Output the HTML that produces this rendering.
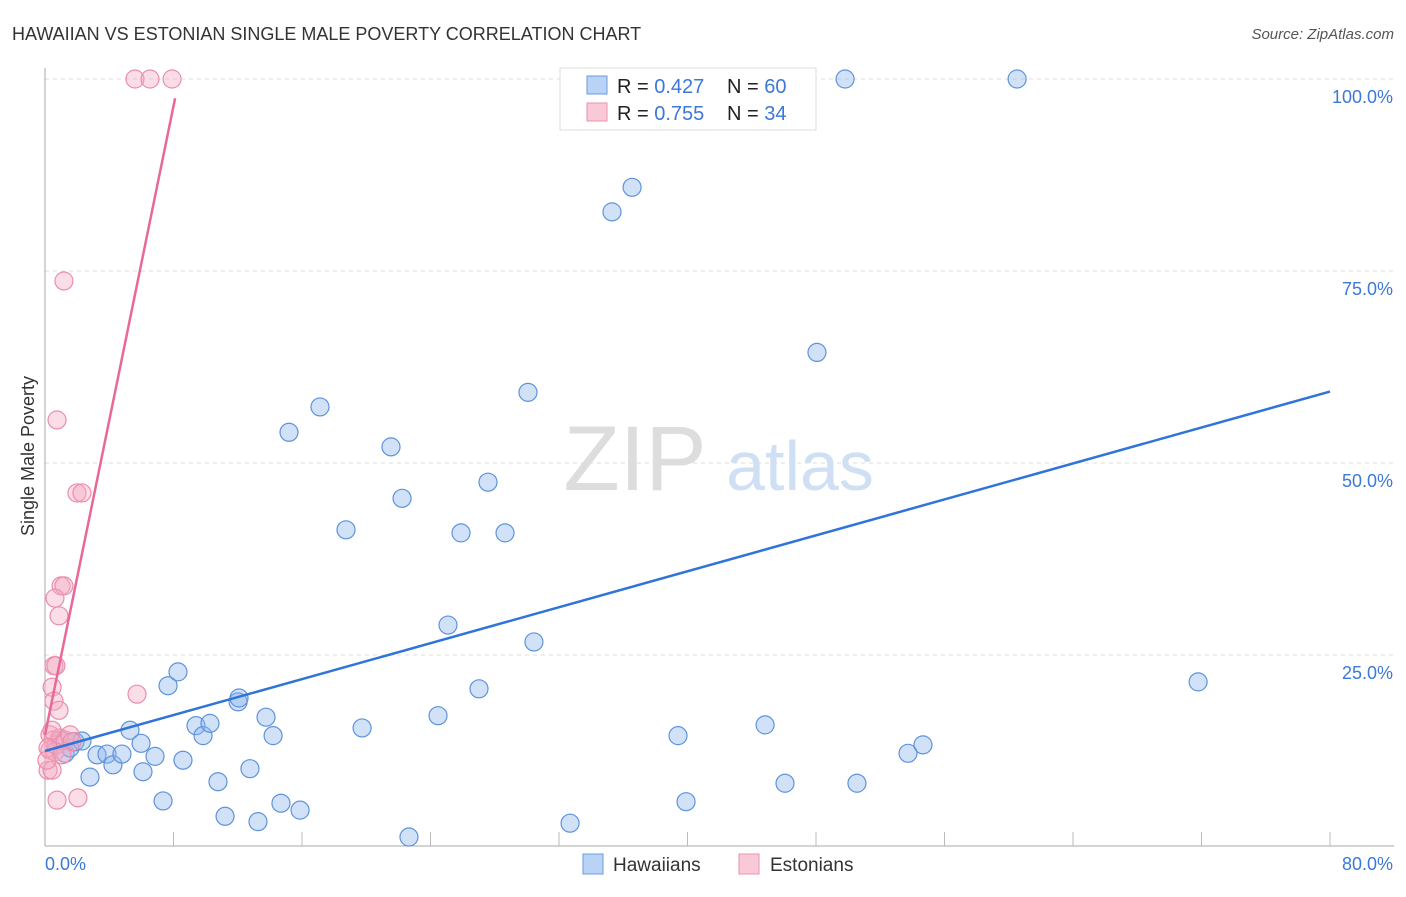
<!DOCTYPE html>
<html><head><meta charset="utf-8"><style>
body{margin:0;background:#fff;font-family:"Liberation Sans",sans-serif}
svg text{font-family:"Liberation Sans",sans-serif}
</style></head><body>
<svg width="1406" height="892" id="chart">
<text x="12" y="40" font-size="18" fill="#333">HAWAIIAN VS ESTONIAN SINGLE MALE POVERTY CORRELATION CHART</text>
<text x="1394" y="39" font-size="15" fill="#555" text-anchor="end" font-style="italic">Source: ZipAtlas.com</text>
<text x="635" y="490" font-size="92" fill="#ddd" font-family="Liberation Serif" text-anchor="middle">ZIP</text>
<text x="800" y="490" font-size="70" fill="#cfe0f5" text-anchor="middle">atlas</text>
<g id="grid"></g><g id="axes"></g><g id="pts"></g><g id="lines"></g>
<text transform="translate(34,456) rotate(-90)" font-size="18" fill="#333" text-anchor="middle">Single Male Poverty</text>
<text x="45" y="870" font-size="18" fill="#3b78d8">0.0%</text>
<text x="1393" y="870" font-size="18" fill="#3b78d8" text-anchor="end">80.0%</text>
<g>
<rect x="560" y="68" width="256" height="62" fill="#fff" stroke="#ddd"/>
<rect x="587" y="76" width="20" height="18" fill="#b8d3f5" stroke="#6a9be0"/>
<rect x="587" y="103" width="20" height="18" fill="#f9c9d8" stroke="#eb92ae"/>
<text x="617" y="93" font-size="20" fill="#222">R = <tspan fill="#3b78d8">0.427</tspan><tspan x="727">N = </tspan><tspan fill="#3b78d8">60</tspan></text>
<text x="617" y="120" font-size="20" fill="#222">R = <tspan fill="#3b78d8">0.755</tspan><tspan x="727">N = </tspan><tspan fill="#3b78d8">34</tspan></text>
</g>
<g>
<rect x="583" y="854" width="20" height="20" fill="#b8d3f5" stroke="#6a9be0"/>
<text x="613" y="871" font-size="19" fill="#333">Hawaiians</text>
<rect x="739" y="854" width="20" height="20" fill="#f9c9d8" stroke="#eb92ae"/>
<text x="770" y="871" font-size="19" fill="#333">Estonians</text>
</g>
</svg>
<script>
const yTicks=[25,50,75,100];
const yTickLabels=["25.0%","50.0%","75.0%","100.0%"];
const xTicks=[8,16,24,32,40,48,56,64,72,80];
const hawX=[0.93,1.25,1.56,1.87,2.30,2.80,3.24,3.86,4.23,4.79,5.29,5.98,6.10,6.85,7.35,7.66,8.28,8.59,9.40,9.84,10.27,10.77,11.21,12.02,12.08,12.76,13.26,13.76,14.20,14.69,15.19,15.88,17.12,18.74,19.74,21.54,22.23,22.66,24.47,25.09,25.90,27.02,27.58,28.64,30.07,30.44,32.69,35.30,36.55,39.41,39.91,44.83,46.07,48.06,49.81,50.55,53.73,54.66,60.52,71.79];
const hawY=[13.9,12.2,12.9,13.7,13.8,9.1,12.0,12.1,10.7,12.1,15.2,13.5,9.8,11.8,6.0,21.0,22.8,11.3,15.8,14.5,16.1,8.5,4.0,18.9,19.4,10.2,3.3,16.9,14.5,5.7,54.0,4.8,57.3,41.3,15.5,52.1,45.4,1.3,17.1,28.9,40.9,20.6,47.5,40.9,59.2,26.7,3.1,82.7,85.9,14.5,5.9,15.9,8.3,64.4,100,8.3,12.2,13.3,100,21.5];
const estX=[5.60,6.54,7.91,1.18,0.75,1.99,2.30,1.00,1.18,0.62,0.87,0.56,0.68,0.44,0.56,0.87,5.73,0.31,0.50,0.68,0.93,1.25,1.56,1.68,0.31,0.62,0.19,0.44,0.75,2.05,0.19,0.44,1.06,0.12];
const estY=[100,100,100,73.7,55.6,46.1,46.1,34.0,34.0,32.4,30.1,23.6,23.6,20.8,19.0,17.8,19.9,14.6,13.9,13.3,14.2,13.9,14.6,13.7,12.6,12.4,10.0,10.0,6.1,6.4,12.9,15.2,12.0,11.3];
const hawTrend=[12.5,59.3];
const estTrend=[14.6,97.5,8.1];
const NS="http://www.w3.org/2000/svg";
const X=v=>45+v/80*1285, Y=v=>847-v/100*768;
function mk(t,a,p){const e=document.createElementNS(NS,t);for(const k in a)e.setAttribute(k,a[k]);p.appendChild(e);return e;}
const grid=document.getElementById('grid'),axes=document.getElementById('axes'),pts=document.getElementById('pts'),lines=document.getElementById('lines');
yTicks.forEach((t,i)=>{
const l=mk('line',{x1:45,x2:1394,y1:Y(t),y2:Y(t),stroke:'#ddd','stroke-dasharray':'4,4'},grid);


const tx=mk('text',{x:1393,y:Y(t)+24,'font-size':18,fill:'#3b78d8','text-anchor':'end'},grid);
tx.textContent=yTickLabels[i];


});
let a=mk('line',{x1:45,x2:45,y1:68,y2:846,stroke:'#aaa'},axes);


a=mk('line',{x1:45,x2:1394,y1:846,y2:846,stroke:'#aaa'},axes);


xTicks.forEach(t=>{
const l=mk('line',{x1:X(t),x2:X(t),y1:832,y2:846,stroke:'#bbb'},axes);


});
hawX.forEach((v,i)=>{
const c=mk('circle',{cx:X(v),cy:Y(hawY[i]),r:9,fill:'rgba(140,182,238,0.4)',stroke:'#5e93dc','stroke-width':1.2},pts);


});
estX.forEach((v,i)=>{
const c=mk('circle',{cx:X(v),cy:Y(estY[i]),r:9,fill:'rgba(246,170,196,0.4)',stroke:'#ea8eab','stroke-width':1.2},pts);


});
let tl=mk('line',{x1:X(0),y1:Y(hawTrend[0]),x2:X(80),y2:Y(hawTrend[1]),stroke:'#2f74d8','stroke-width':2.5},lines);


tl=mk('line',{x1:X(0),y1:Y(estTrend[0]),x2:X(estTrend[2]),y2:Y(estTrend[1]),stroke:'#e8689a','stroke-width':2.5},lines);


</script>
</body></html>
